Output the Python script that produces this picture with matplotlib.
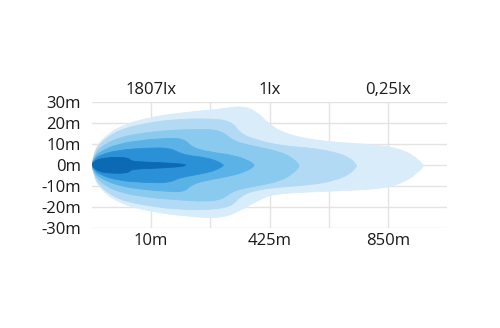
import matplotlib.pyplot as plt
import numpy as np
from matplotlib.path import Path
from matplotlib.patches import PathPatch

plt.rcParams['font.family'] = ['Open Sans', 'DejaVu Sans']

# grid columns (0..6) along the beam, metres across
y_ticks = [30, 20, 10, 0, -10, -20, -30]
x_tick_pos = [1, 3, 5]
x_labels = ["10m", "425m", "850m"]
lux_labels = ["1807lx", "1lx", "0,25lx"]

# isolux outlines, outermost first: column position, upper edge, lower edge (m)
l1_x = [0, 0.03, 0.12, 0.44, 0.95, 1.6, 2.2, 2.55, 2.8, 3.0, 3.25, 3.6, 4.0, 4.5, 4.95, 5.25, 5.45, 5.6]
l1_top = [0, 5, 11, 18, 22.5, 25, 26.5, 28, 25, 19, 15, 12.5, 11, 10, 9, 7, 4, 0]
l1_bot = [0, -5, -11, -18, -22, -24.5, -25.5, -21, -17, -14.5, -13.5, -13, -12.5, -12, -11, -8.5, -5, -1]

l2_x = [0, 0.03, 0.12, 0.44, 0.95, 1.4, 1.9, 2.35, 2.5, 2.75, 3.2, 3.7, 4.1, 4.35, 4.47]
l2_top = [0, 4.5, 10, 16.5, 20, 21.5, 22, 21, 15, 12, 9, 8, 6, 3.5, 0]
l2_bot = [0, -4.5, -10, -16.5, -19.5, -21, -21.5, -20, -15, -12, -10.5, -9.5, -7.5, -4.5, -1]

l3_x = [0, 0.03, 0.12, 0.44, 0.95, 1.4, 1.9, 2.2, 2.4, 2.8, 3.2, 3.4, 3.5]
l3_top = [0, 3.5, 8, 13, 15.5, 16.5, 17, 16, 11, 8.5, 6, 3, 0]
l3_bot = [0, -3.5, -8, -13, -15.5, -16.5, -17.5, -16.5, -12, -10, -7.5, -4, -1]

l4_x = [0, 0.03, 0.12, 0.44, 0.95, 1.25, 1.55, 1.7, 2.0, 2.4, 2.65, 2.74]
l4_top = [0, 3, 6, 10, 12, 12.5, 12.5, 8, 6, 4.5, 2, 0]
l4_bot = [0, -3, -6, -10, -12, -12.5, -13, -9, -7, -5, -2.5, -0.5]

l5_x = [0, 0.03, 0.12, 0.44, 0.95, 1.3, 1.45, 1.6, 1.9, 2.1, 2.22]
l5_top = [0, 2, 4.5, 7, 8, 8, 6, 4.5, 3.5, 2, 0]
l5_bot = [0, -2, -4.5, -7.5, -8.5, -8.5, -6.5, -5.5, -4, -2.5, -0.5]

l6_x = [0, 0.03, 0.12, 0.3, 0.6, 0.65, 0.75, 1.0, 1.3, 1.5, 1.58]
l6_top = [0, 1.5, 2.8, 3.5, 3.5, 2, 1.5, 1.2, 0.8, 0.4, 0]
l6_bot = [0, -1.5, -3.2, -4, -4, -2.5, -2, -1.7, -1.3, -0.8, -0.3]

colors = ["#d8ecf9", "#b3daf4", "#8acaef", "#5ab2e6", "#2b91d6", "#0c6ab4"]
layers = [(l1_x, l1_top, l1_bot), (l2_x, l2_top, l2_bot), (l3_x, l3_top, l3_bot),
          (l4_x, l4_top, l4_bot), (l5_x, l5_top, l5_bot), (l6_x, l6_top, l6_bot)]


def smooth_outline(xs, top, bot):
    pts = list(zip(xs, top)) + list(zip(xs[::-1], bot[::-1]))[:-1]
    pts = np.array(pts, dtype=float)
    n = len(pts)
    mids = (pts + np.roll(pts, -1, axis=0)) / 2
    verts = [mids[-1]]
    codes = [Path.MOVETO]
    for i in range(n):
        verts += [pts[i], mids[i]]
        codes += [Path.CURVE3, Path.CURVE3]
    verts.append(mids[-1])
    codes.append(Path.CLOSEPOLY)
    return Path(verts, codes)


fig = plt.figure(figsize=(5, 3.28), dpi=100)
ax = fig.add_axes([0.184, 0.305, 0.71, 0.385])

for (xs, top, bot), c in zip(layers, colors):
    ax.add_patch(PathPatch(smooth_outline(xs, top, bot), facecolor=c, edgecolor=c,
                           linewidth=0.6, zorder=2))

for v in y_ticks:
    ax.axhline(v, color="#e3e3e3", lw=1, zorder=1)
for c in range(1, 6):
    ax.axvline(c, color="#e3e3e3", lw=1, zorder=1)

ax.set_xlim(0, 6)
ax.set_ylim(-30, 30)
for s in ax.spines.values():
    s.set_visible(False)

ax.set_yticks(y_ticks)
ax.set_yticklabels([f"{v}m" for v in y_ticks])
ax.set_xticks(x_tick_pos)
ax.set_xticklabels(x_labels)
ax.tick_params(length=0, labelsize=12, colors="#1a1a1a")
ax.tick_params(axis="y", pad=8)
ax.tick_params(axis="x", pad=3.5)

top = ax.secondary_xaxis("top")
top.set_xticks(x_tick_pos)
top.set_xticklabels(lux_labels)
top.tick_params(length=0, labelsize=12, colors="#1a1a1a", pad=3)
for s in top.spines.values():
    s.set_visible(False)

fig.savefig("out.png", dpi=100)
